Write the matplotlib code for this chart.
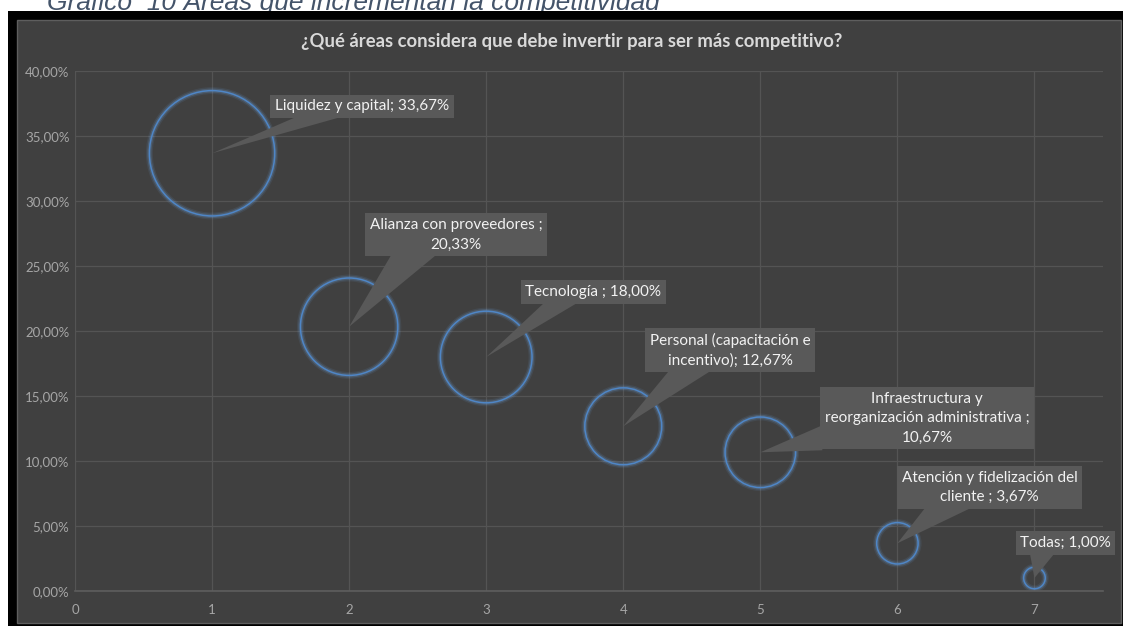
import matplotlib
matplotlib.use("Agg")
import matplotlib.pyplot as plt
import matplotlib.patheffects as pe
from matplotlib.patches import Rectangle, Polygon
from matplotlib.transforms import IdentityTransform
from matplotlib.ticker import FuncFormatter, MultipleLocator

# survey answers: area, position on the x axis, share of respondents (%)
areas = [
    "Liquidez y capital",
    "Alianza con proveedores ",
    "Tecnología ",
    "Personal (capacitación e\nincentivo)",
    "Infraestructura y\nreorganización administrativa ",
    "Atención y fidelización del\ncliente ",
    "Todas",
]
x_pos = [1, 2, 3, 4, 5, 6, 7]
pct = [33.67, 20.33, 18.00, 12.67, 10.67, 3.67, 1.00]
# what goes between ";" and the value in each label
value_sep = [" ", "\n", " ", " ", "\n", " ", " "]

title = "¿Qué áreas considera que debe invertir para ser más competitivo?"
caption = "Gráfico  10 Áreas que incrementan la competitividad"

BG = "#404040"
GRID = "#545454"
BOX = "#595959"
BLUE = "#4f86c6"
TICK = "#a6a6a6"

# label box centre, in pixels from its bubble
label_offset = [(150, 47), (107, 92), (107, 65), (107, 76), (167, 34), (92, 56), (31, 35)]
# the two base corners of each callout pointer, in pixels from the bubble centre
pointer_base = [
    [(88, 38), (135, 38)],
    [(44, 75), (91, 75)],
    [(61, 57), (96, 57)],
    [(47, 57), (90, 57)],
    [(62, 27), (62, 2)],
    [(29, 37), (77, 37)],
    [(-5, 27), (22, 27)],
]

fig = plt.figure(figsize=(11.23, 6.26), dpi=100)
fig.patch.set_facecolor("white")

# caption above the chart, mostly hidden behind the frame
fig.text(0.042, 1 - 10 / 626, caption, fontsize=19, style="italic",
         family="Liberation Sans", color="#44546a", va="baseline", zorder=-3)
fig.patches.append(Rectangle((8 / 1123, 0), 1, 615 / 626, transform=fig.transFigure,
                             fc="black", ec="none", zorder=-2))
fig.patches.append(Rectangle((17 / 1123, 3 / 626), 1104 / 1123, 603 / 626,
                             transform=fig.transFigure, fc=BG, ec="#5e5e5e",
                             lw=1, zorder=-1))

ax = fig.add_axes([75 / 1123, 1 - 591 / 626, 1028 / 1123, 520 / 626])
ax.patch.set_visible(False)
ax.set_xlim(0, 7.5)
ax.set_ylim(0, 40)

sizes = [241.9 * v for v in pct]
ax.scatter(x_pos, pct, s=sizes, facecolors="none", edgecolors=BLUE, linewidths=1.1,
           zorder=2,
           path_effects=[pe.Stroke(linewidth=5, foreground="#6fa3e0", alpha=0.10),
                         pe.Stroke(linewidth=3, foreground="#6fa3e0", alpha=0.22),
                         pe.Normal()])

for i in range(len(areas)):
    label = f"{areas[i]};{value_sep[i]}{pct[i]:.2f}%".replace(".", ",")
    ax.annotate(label, xy=(x_pos[i], pct[i]), xytext=label_offset[i],
                textcoords="offset pixels", ha="center", va="center",
                fontsize=11, family="Lato", color="#f2f2f2", linespacing=1.5,
                bbox=dict(boxstyle="square,pad=0.3", fc=BOX, ec="none"),
                zorder=4)
    # callout pointer from the box down to the bubble centre
    tx, ty = ax.transData.transform((x_pos[i], pct[i]))
    corners = [(tx, ty)] + [(tx + dx, ty + dy) for dx, dy in pointer_base[i]]
    ax.add_patch(Polygon(corners, closed=True, fc=BOX, ec="none",
                         transform=IdentityTransform(), zorder=3, clip_on=False))

ax.xaxis.set_major_locator(MultipleLocator(1))
ax.yaxis.set_major_locator(MultipleLocator(5))
ax.yaxis.set_major_formatter(FuncFormatter(lambda v, p: f"{v:.2f}%".replace(".", ",")))
ax.grid(True, color=GRID, lw=0.9)
ax.set_axisbelow(True)
for side in ["top", "right", "left"]:
    ax.spines[side].set_visible(False)
ax.spines["bottom"].set_color("#5e5e5e")
ax.spines["bottom"].set_linewidth(1.2)
ax.tick_params(length=0, colors=TICK, labelsize=9.5)
ax.tick_params(axis="x", pad=9)
ax.tick_params(axis="y", pad=4)
for t in ax.get_xticklabels() + ax.get_yticklabels():
    t.set_family("Lato")

fig.text(572 / 1123, 1 - 42 / 626, title, ha="center", va="center", fontsize=13.3,
         weight="bold", family="Lato", color="#d9d9d9")

fig.savefig("out.png", dpi=100, facecolor=fig.get_facecolor())
